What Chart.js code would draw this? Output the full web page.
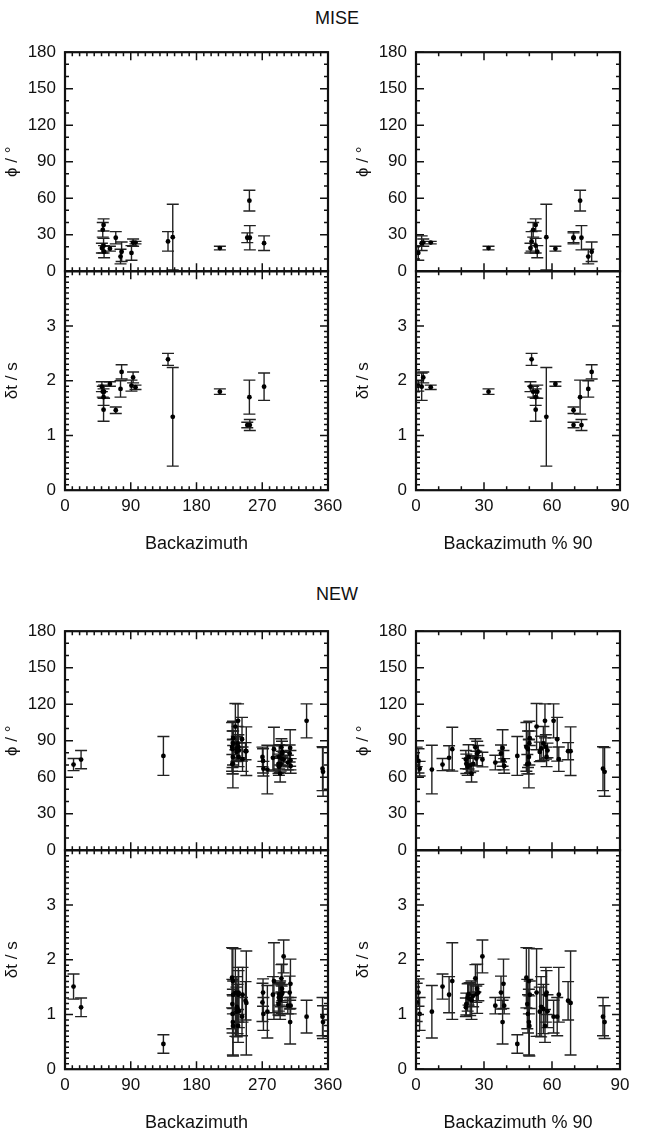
<!DOCTYPE html>
<html>
<head>
<meta charset="utf-8">
<script src="https://cdn.jsdelivr.net/npm/chart.js@4.4.1/dist/chart.umd.min.js"></script>
<style>
  body { margin: 0; width: 646px; height: 1133px; background: #fff; position: relative; overflow: hidden; font-family: 'Liberation Sans', Arial, sans-serif; }
  canvas { position: absolute; }
  .title { position: absolute; font-size: 18px; color: #111; transform: translate(-50%, -50%); }
</style>
</head>
<body>
<div class="title" style="left:337px;top:18px">MISE</div>
<div class="title" style="left:337px;top:594px">NEW</div>
<script>
// MISE: backazimuth, fast direction and delay time with their errors
const miseBaz = [50.5, 51.7, 52.8, 52.8, 53.5, 61.5, 69.5, 76.0, 77.5, 91.0, 93.2, 96.5, 141.0, 147.5, 212.0, 249.5, 252.4, 253.0, 272.5];
const misePhi = [19, 34, 38, 21, 16, 18.5, 27.5, 12, 16, 15, 23.5, 23.5, 24.5, 28, 19, 27.5, 58, 27.5, 23];
const misePhiErr = [4, 6, 5, 6, 5, 2, 5, 6, 8, 6, 3, 1, 8, 27, 1.5, 4, 8.5, 10, 6];
const miseDt = [1.89, 1.80, 1.70, 1.47, 1.80, 1.94, 1.46, 1.85, 2.16, 1.91, 2.06, 1.88, 2.39, 1.34, 1.80, 1.19, 1.70, 1.19, 1.89];
const miseDtErr = [0.09, 0.10, 0.15, 0.21, 0.12, 0.04, 0.06, 0.15, 0.13, 0.10, 0.10, 0.04, 0.11, 0.90, 0.05, 0.05, 0.31, 0.10, 0.25];

// NEW
const newBaz = [270.3, 271.1, 271.6, 277.0, 11.7, 284.6, 286.0, 22.0, 292.2, 292.8, 293.2, 293.9, 294.5, 295.2, 296.2, 296.6, 297.0, 297.5, 299.3, 305.0, 307.5, 308.2, 308.6, 308.9, 134.7, 228.7, 229.1, 229.4, 229.8, 230.0, 229.8, 230.2, 233.2, 234.6, 235.2, 236.2, 236.9, 237.3, 237.6, 238.0, 330.7, 242.3, 243.0, 247.1, 248.2, 352.5, 353.2];
const newPhi = [76.7, 73.4, 67, 66.3, 70.4, 75.9, 83, 74.5, 71, 68.5, 76.7, 69.8, 63, 71, 84.6, 75.3, 79.5, 81, 74.5, 72, 79.5, 84, 74, 69.3, 77.5, 84.9, 70.7, 83, 76.7, 88, 71.2, 92, 101.6, 80.8, 83.6, 87.7, 106.3, 84.9, 76.7, 82, 106.3, 91.2, 74.8, 81.4, 81.4, 67, 64.4];
const newPhiErr = [8, 10, 6, 20, 5, 10, 18, 7.5, 8, 7, 10, 6, 7, 6, 7, 6, 10, 5, 6, 6, 7, 15, 8, 6, 16, 20, 8, 15, 14, 18, 20, 6, 19, 8, 10, 14, 14, 10, 8, 6, 14, 18, 10, 7, 20, 18, 20];
const newDt = [1.22, 1.40, 1.01, 1.05, 1.51, 1.36, 1.61, 1.13, 1.19, 1.31, 1.37, 1.28, 1.26, 1.34, 1.66, 1.37, 1.47, 1.40, 2.06, 1.16, 1.40, 0.86, 1.56, 1.16, 0.46, 1.67, 1.19, 1.01, 0.86, 0.79, 1.61, 1.36, 1.40, 1.05, 1.14, 1.10, 0.79, 1.36, 1.40, 1.06, 0.96, 0.96, 1.36, 1.25, 1.21, 0.96, 0.86];
const newDtErr = [0.35, 0.25, 0.3, 0.48, 0.23, 0.33, 0.7, 0.17, 0.2, 0.25, 0.2, 0.3, 0.35, 0.2, 0.25, 0.15, 0.45, 0.15, 0.3, 0.15, 0.3, 0.4, 0.45, 0.15, 0.17, 0.55, 0.45, 0.35, 0.6, 0.55, 0.6, 0.25, 0.8, 0.45, 0.55, 0.45, 0.3, 0.5, 0.4, 0.3, 0.3, 0.35, 0.5, 0.35, 0.95, 0.35, 0.3];

// tick labels
const phiTicks = [0, 30, 60, 90, 120, 150, 180];
const dtTicks = [0, 1, 2, 3];
const bazTicks = [0, 90, 180, 270, 360];
const modTicks = [0, 30, 60, 90];

Chart.defaults.font.family = "'Liberation Sans', Arial, sans-serif";
Chart.defaults.font.size = 17;
Chart.defaults.color = '#111';

// barras de error verticales con tope, debajo de los puntos
const errorBars = {
  id: 'errorBars',
  beforeDatasetsDraw(chart) {
    const { ctx, chartArea: a, scales: { x, y } } = chart;
    ctx.save();
    ctx.beginPath();
    ctx.rect(a.left, a.top, a.right - a.left, a.bottom - a.top);
    ctx.clip();
    ctx.strokeStyle = '#222';
    ctx.lineWidth = 1.4;
    chart.data.datasets.forEach(ds => {
      ds.data.forEach((p, i) => {
        const e = ds.errors[i];
        const px = x.getPixelForValue(p.x);
        const y1 = y.getPixelForValue(p.y - e);
        const y2 = y.getPixelForValue(p.y + e);
        ctx.beginPath();
        ctx.moveTo(px, y1); ctx.lineTo(px, y2);
        ctx.moveTo(px - 6, y1); ctx.lineTo(px + 6, y1);
        ctx.moveTo(px - 6, y2); ctx.lineTo(px + 6, y2);
        ctx.stroke();
      });
    });
    ctx.restore();
  }
};

// caja con marcas hacia adentro en los cuatro lados
const frame = {
  id: 'frame',
  afterDraw(chart, args, opts) {
    const { ctx, chartArea: a, scales: { x, y } } = chart;
    const isMajor = (v, step) => Math.abs(v / step - Math.round(v / step)) < 1e-6;
    ctx.save();
    ctx.strokeStyle = '#111';
    ctx.lineWidth = 1.5;
    ctx.beginPath();
    for (let i = 0; i * opts.xMinor <= x.max + 1e-9; i++) {
      const v = i * opts.xMinor;
      const px = x.getPixelForValue(v);
      const len = isMajor(v, opts.xMajor) ? 8 : 4;
      ctx.moveTo(px, a.top); ctx.lineTo(px, a.top + len);
      ctx.moveTo(px, a.bottom); ctx.lineTo(px, a.bottom - len);
    }
    for (let i = 0; i * opts.yMinor <= y.max + 1e-9; i++) {
      const v = i * opts.yMinor;
      const py = y.getPixelForValue(v);
      const len = isMajor(v, opts.yMajor) ? 8 : 4;
      ctx.moveTo(a.left, py); ctx.lineTo(a.left + len, py);
      ctx.moveTo(a.right, py); ctx.lineTo(a.right - len, py);
    }
    ctx.stroke();
    ctx.lineWidth = 2.2;
    ctx.strokeRect(a.left, a.top, a.right - a.left, a.bottom - a.top);
    ctx.restore();
  }
};

const yW = 65, padT = 14, padR = 24, xH = 69;

function makePanel(area, cfg) {
  const hasX = !!cfg.xTitle;
  const padB = hasX ? 0 : 14;
  const w = yW + (area.r - area.l) + padR;
  const h = padT + (area.b - area.t) + (hasX ? xH : padB);
  const canvas = document.createElement('canvas');
  canvas.width = w;
  canvas.height = h;
  canvas.style.left = (area.l - yW) + 'px';
  canvas.style.top = (area.t - padT) + 'px';
  document.body.appendChild(canvas);

  const pts = cfg.xs.map((v, i) => ({ x: v, y: cfg.ys[i] }));
  const chart = new Chart(canvas, {
    type: 'scatter',
    data: {
      datasets: [{
        data: pts,
        errors: cfg.errs,
        backgroundColor: '#000',
        borderColor: '#000',
        pointRadius: 2.4,
        borderWidth: 0
      }]
    },
    options: {
      responsive: false,
      maintainAspectRatio: false,
      animation: false,
      devicePixelRatio: 1,
      layout: { padding: { left: 0, top: padT, right: padR, bottom: padB } },
      plugins: {
        legend: { display: false },
        tooltip: { enabled: false },
        frame: { xMinor: 10, xMajor: cfg.xTicks[1], yMinor: cfg.yMinor, yMajor: cfg.yTicks[1] }
      },
      scales: {
        x: {
          type: 'linear',
          display: hasX,
          min: 0,
          max: cfg.xTicks[cfg.xTicks.length - 1],
          grid: { display: false, drawTicks: false },
          border: { display: false },
          afterBuildTicks: s => { s.ticks = cfg.xTicks.map(v => ({ value: v })); },
          ticks: { padding: 6, maxRotation: 0, autoSkip: false },
          title: { display: hasX, text: cfg.xTitle, font: { size: 18 }, padding: { top: 0, bottom: 4 } },
          afterFit: s => { if (hasX) s.height = xH; }
        },
        y: {
          type: 'linear',
          min: 0,
          max: cfg.yMax,
          grid: { display: false, drawTicks: false },
          border: { display: false },
          afterBuildTicks: s => { s.ticks = cfg.yTicks.map(v => ({ value: v })); },
          ticks: { padding: 9, autoSkip: false },
          title: { display: true, text: cfg.yTitle, font: { size: 17 }, padding: { top: 2, bottom: 2 } },
          afterFit: s => { s.width = yW; }
        }
      }
    },
    plugins: [errorBars, frame]
  });

  // ajusta tamaño y posicion para que el area del grafico caiga donde va
  let ca = chart.chartArea;
  const dW = (area.r - area.l) - (ca.right - ca.left);
  const dH = (area.b - area.t) - (ca.bottom - ca.top);
  if (dW || dH) {
    chart.resize(w + dW, h + dH);
    ca = chart.chartArea;
  }
  canvas.style.left = (area.l - ca.left) + 'px';
  canvas.style.top = (area.t - ca.top) + 'px';
  return chart;
}

function panelPair(left, top, right, baz, phi, phiErr, dt, dtErr, useMod) {
  const xs = useMod ? baz.map(b => b % 90) : baz;
  const xTicks = useMod ? modTicks : bazTicks;
  makePanel({ l: left, r: right, t: top, b: top + 219 }, {
    xs: xs, ys: phi, errs: phiErr, xTicks: xTicks,
    yTicks: phiTicks, yMax: 180, yMinor: 10, yTitle: 'ϕ / °'
  });
  makePanel({ l: left, r: right, t: top + 219, b: top + 438 }, {
    xs: xs, ys: dt, errs: dtErr, xTicks: xTicks,
    yTicks: dtTicks, yMax: 4, yMinor: 0.1, yTitle: 'δt / s',
    xTitle: useMod ? 'Backazimuth % 90' : 'Backazimuth'
  });
}

panelPair(65, 52, 328, miseBaz, misePhi, misePhiErr, miseDt, miseDtErr, false);
panelPair(416, 52, 620, miseBaz, misePhi, misePhiErr, miseDt, miseDtErr, true);
panelPair(65, 631, 328, newBaz, newPhi, newPhiErr, newDt, newDtErr, false);
panelPair(416, 631, 620, newBaz, newPhi, newPhiErr, newDt, newDtErr, true);
</script>
</body>
</html>
